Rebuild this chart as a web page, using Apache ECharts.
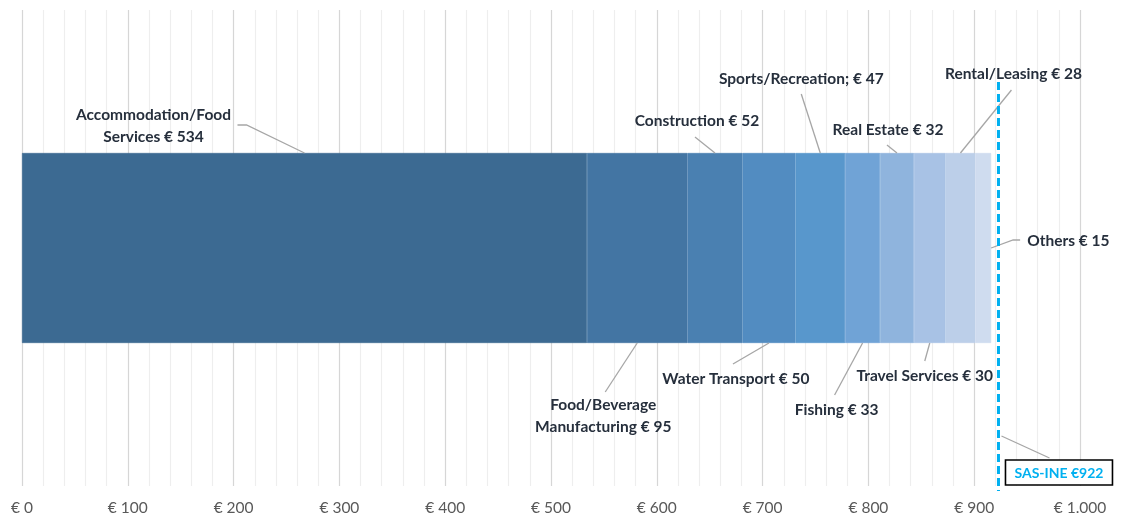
<!DOCTYPE html>
<html>
<head>
<meta charset="utf-8">
<title>Spending by sector</title>
<script src="https://cdn.jsdelivr.net/npm/echarts@6/dist/echarts.min.js"></script>
<style>
  html, body { margin: 0; padding: 0; background: #ffffff; }
  #chart { width: 1121px; height: 517px; }
</style>
</head>
<body>
<div id="chart"></div>
<script>
// Sectors, in stacking order from left to right
const sectors = ['Accommodation/Food Services', 'Food/Beverage Manufacturing', 'Construction',
  'Water Transport', 'Sports/Recreation', 'Fishing', 'Real Estate', 'Travel Services',
  'Rental/Leasing', 'Others'];
// Label captions (value appended from spend)
const captions = ['Accommodation/Food\nServices', 'Food/Beverage\nManufacturing', 'Construction',
  'Water Transport', 'Sports/Recreation;', 'Fishing', 'Real Estate', 'Travel Services',
  'Rental/Leasing', 'Others'];
// Spending per sector (€)
const spend = [534, 95, 52, 50, 47, 33, 32, 30, 28, 15];
// Reference total
const benchmarkName = 'SAS-INE';
const benchmarkValue = 922;
// Axis ticks
const xTicks = [0, 100, 200, 300, 400, 500, 600, 700, 800, 900, 1000];

// Segment colours, dark to light
const colors = ['#3c6a92', '#4375a3', '#4a80b1', '#528cc1', '#5897cc', '#70a3d6',
  '#8fb4dd', '#a8c2e5', '#bccfe9', '#cfdcef'];

// Leader-line layout for each label, in pixels relative to its anchor on the bar
// side: where the anchor sits (top / bottom edge at segment middle, or bar end)
const labelLayout = [
  { side: 'top',    line: [[0, 0], [-58, -28], [-67, -28]], text: [-151, -27], align: 'center' },
  { side: 'bottom', line: [[0, 0], [-32, 49]],              text: [-34, 73],   align: 'center' },
  { side: 'top',    line: [[0, 0], [-20, -16]],             text: [-18, -32],  align: 'center' },
  { side: 'bottom', line: [[0, 0], [-36, 21]],              text: [-33, 36],   align: 'center' },
  { side: 'top',    line: [[0, 0], [-19, -59]],             text: [-19, -74],  align: 'center' },
  { side: 'bottom', line: [[0, 0], [-28, 52]],              text: [-26, 67],   align: 'center' },
  { side: 'top',    line: [[0, 0], [-10, -8]],              text: [-9, -23],   align: 'center' },
  { side: 'bottom', line: [[0, 0], [-5, 18]],               text: [-5, 33],    align: 'center' },
  { side: 'top',    line: [[0, 0], [51, -63]],              text: [53, -79],   align: 'center' },
  { side: 'end',    line: [[0, 0], [22, -8], [29, -8]],     text: [36, -7],    align: 'left' }
];

const BAR_WIDTH = 190;
const LABEL_FONT = 'bold 15.5px Lato, "Open Sans", sans-serif';
const BOX_FONT = 'bold 14px Lato, "Open Sans", sans-serif';
const LABEL_COLOR = '#262f3c';
const LEADER_COLOR = '#a6a6a6';

const euro = v => '€ ' + String(v).replace(/\B(?=(\d{3})+(?!\d))/g, '.');

// Cumulative start / end of every segment
const starts = [];
const ends = [];
spend.reduce((acc, v, i) => { starts[i] = acc; ends[i] = acc + v; return acc + v; }, 0);

const barSeries = sectors.map((name, i) => ({
  name: name,
  type: 'bar',
  stack: 'total',
  barWidth: BAR_WIDTH,
  data: [spend[i]],
  itemStyle: { color: colors[i], borderColor: colors[i], borderWidth: 0.6 },
  emphasis: { disabled: true },
  z: 2
}));

// Callout labels with leader lines, anchored through the axes
const calloutSeries = {
  type: 'custom',
  coordinateSystem: 'cartesian2d',
  data: sectors.map((_, i) => [starts[i], ends[i], i]),
  encode: { x: [0, 1] },
  silent: true,
  z: 5,
  renderItem: function (params, api) {
    const i = api.value(2);
    const lay = labelLayout[i];
    const s = api.value(0), e = api.value(1);
    let anchor;
    if (lay.side === 'end') {
      anchor = api.coord([e, 0]);
    } else {
      const mid = api.coord([(s + e) / 2, 0]);
      anchor = [mid[0], mid[1] + (lay.side === 'top' ? -BAR_WIDTH / 2 : BAR_WIDTH / 2)];
    }
    const pts = lay.line.map(p => [anchor[0] + p[0], anchor[1] + p[1]]);
    return {
      type: 'group',
      children: [
        { type: 'polyline', shape: { points: pts },
          style: { stroke: LEADER_COLOR, lineWidth: 1.3, fill: null } },
        { type: 'text',
          style: {
            text: captions[i] + ' € ' + spend[i],
            x: anchor[0] + lay.text[0], y: anchor[1] + lay.text[1],
            align: lay.align, verticalAlign: 'middle',
            font: LABEL_FONT, fill: LABEL_COLOR, lineHeight: 22
          } }
      ]
    };
  }
};

// Dashed reference line with its boxed label
const benchmarkSeries = {
  type: 'custom',
  coordinateSystem: 'cartesian2d',
  data: [[benchmarkValue, 0]],
  encode: { x: 0 },
  silent: true,
  z: 6,
  renderItem: function (params, api) {
    const p = api.coord([api.value(0), 0]);
    const x = p[0] + 1, cy = p[1];
    return {
      type: 'group',
      children: [
        { type: 'line', shape: { x1: x, y1: cy - 166, x2: x, y2: cy + 243 },
          style: { stroke: '#00b0f0', lineWidth: 3, lineDash: [8, 4] } },
        { type: 'line', shape: { x1: x + 3, y1: cy + 188, x2: x + 51, y2: cy + 210 },
          style: { stroke: LEADER_COLOR, lineWidth: 1.3 } },
        { type: 'rect', shape: { x: x + 7, y: cy + 212, width: 107, height: 25 },
          style: { fill: '#ffffff', stroke: '#000000', lineWidth: 1.6 } },
        { type: 'text',
          style: {
            text: benchmarkName + ' €' + benchmarkValue,
            x: x + 60.5, y: cy + 225, align: 'center', verticalAlign: 'middle',
            font: BOX_FONT, fill: '#00b0f0'
          } }
      ]
    };
  }
};

const chart = echarts.init(document.getElementById('chart'), null, { renderer: 'canvas' });
chart.setOption({
  animation: false,
  backgroundColor: '#ffffff',
  grid: { left: 22, right: 41, top: 10, bottom: 31, containLabel: false },
  xAxis: {
    type: 'value',
    min: xTicks[0],
    max: xTicks[xTicks.length - 1],
    interval: xTicks[1] - xTicks[0],
    axisLine: { show: false },
    axisTick: { show: false },
    axisLabel: {
      margin: 14,
      color: '#595959',
      fontFamily: 'Lato, "Open Sans", sans-serif',
      fontSize: 15.5,
      formatter: v => euro(v)
    },
    splitLine: { show: true, lineStyle: { color: '#d6d6d6', width: 1.2 } },
    minorTick: { show: false, splitNumber: 5 },
    minorSplitLine: { show: true, lineStyle: { color: '#eeeeee', width: 1.2 } }
  },
  yAxis: {
    type: 'category',
    data: ['Total'],
    show: false
  },
  series: barSeries.concat([calloutSeries, benchmarkSeries])
});
</script>
</body>
</html>
